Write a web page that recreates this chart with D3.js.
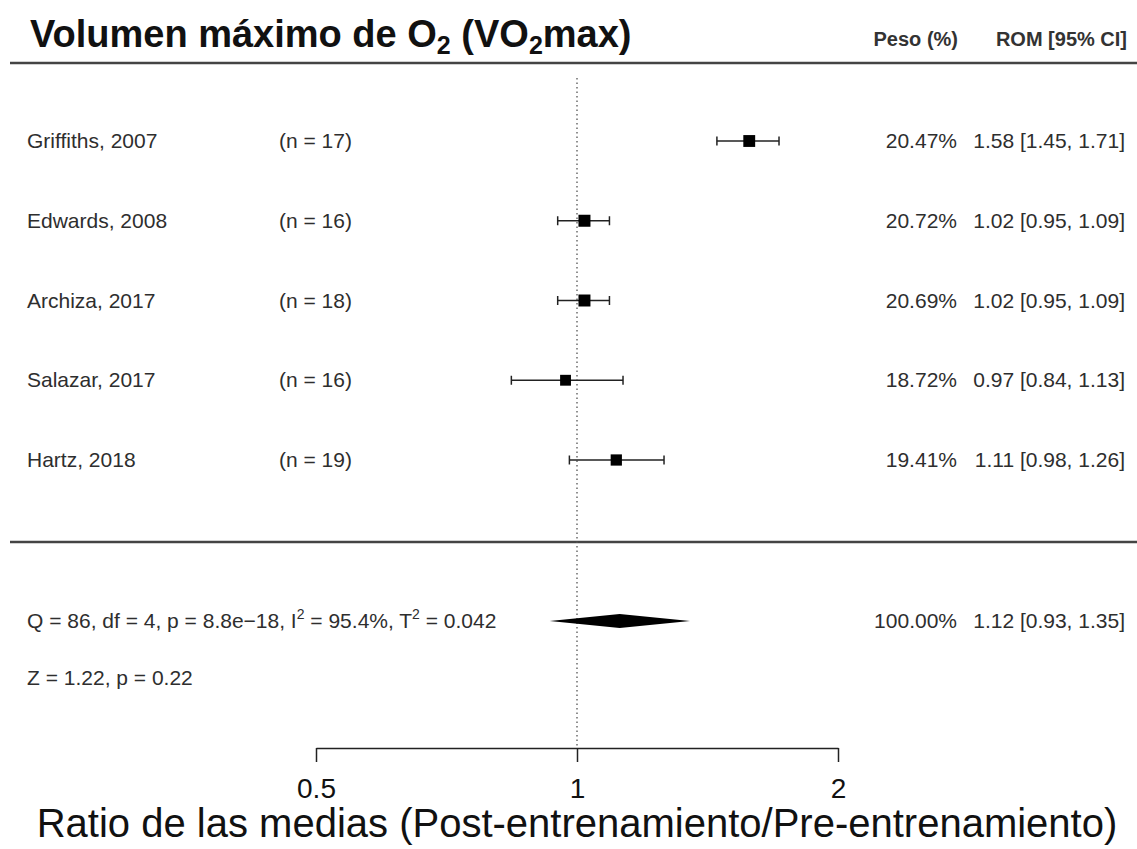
<!DOCTYPE html>
<html lang="es">
<head>
<meta charset="UTF-8">
<title>Forest plot VO2max</title>
<script src="https://cdnjs.cloudflare.com/ajax/libs/d3/7.8.5/d3.min.js"></script>
<style>
    body { margin: 0; background: #fff; }
    svg { display: block; font-family: 'Liberation Sans', Arial, sans-serif; }
    .txt { fill: #2e2e2e; font-size: 21px; }
    .hdr { fill: #333; font-size: 20px; font-weight: bold; }
</style>
</head>
<body>
<div id="chart"></div>
<script>
    // Study data
    const studies = ["Griffiths, 2007", "Edwards, 2008", "Archiza, 2017", "Salazar, 2017", "Hartz, 2018"];
    const sampleSizes = [17, 16, 18, 16, 19];
    const weights = [20.47, 20.72, 20.69, 18.72, 19.41];
    const estimates = [1.58, 1.02, 1.02, 0.97, 1.11];
    const lower = [1.45, 0.95, 0.95, 0.84, 0.98];
    const upper = [1.71, 1.09, 1.09, 1.13, 1.26];

    // Random-effects summary
    const summary = { est: 1.12, lo: 0.93, hi: 1.35, weight: 100.00 };
    const hetText = ["Q = 86, df = 4, p = 8.8e\u221218, I", "2", " = 95.4%, T", "2", " = 0.042"];
    const zText = "Z = 1.22, p = 0.22";

    const tickValues = [0.5, 1, 2];
    const tickLabels = ["0.5", "1", "2"];

    const width = 1137, height = 849;

    const svg = d3.select("#chart").append("svg")
        .attr("width", width)
        .attr("height", height);

    const x = d3.scaleLog().base(2).domain([0.5, 2]).range([316, 838]);
    const y = d3.scalePoint().domain(studies).range([141, 460]);
    const ySummary = 621;
    const yZ = 678;
    const axisY = 748;
    const colW = 957, colCI = 1125;

    // Title
    const title = svg.append("text")
        .attr("x", 30).attr("y", 47)
        .attr("font-size", 38).attr("font-weight", "bold")
        .attr("fill", "#111");
    title.append("tspan").text("Volumen máximo de O");
    title.append("tspan").attr("font-size", 25).attr("dy", 7).text("2");
    title.append("tspan").attr("dy", -7).text(" (VO");
    title.append("tspan").attr("font-size", 25).attr("dy", 7).text("2");
    title.append("tspan").attr("dy", -7).text("max)");

    // Column headers
    svg.append("text").attr("class", "hdr")
        .attr("x", 958).attr("y", 46).attr("text-anchor", "end").text("Peso (%)");
    svg.append("text").attr("class", "hdr")
        .attr("x", 1127).attr("y", 46).attr("text-anchor", "end").text("ROM [95% CI]");

    // Horizontal rules
    [63, 542].forEach(yy => {
        svg.append("line")
            .attr("x1", 10).attr("x2", width)
            .attr("y1", yy).attr("y2", yy)
            .attr("stroke", "#444").attr("stroke-width", 2.5);
    });

    // Reference line at 1
    svg.append("line")
        .attr("x1", x(1)).attr("x2", x(1))
        .attr("y1", 78).attr("y2", axisY)
        .attr("stroke", "#555").attr("stroke-width", 1.3)
        .attr("stroke-dasharray", "1.5,3");

    const fmt = d3.format(".2f");
    const maxW = d3.max(weights);

    studies.forEach((s, i) => {
        const yy = y(s);
        svg.append("text").attr("class", "txt")
            .attr("x", 27).attr("y", yy + 7).text(s);
        svg.append("text").attr("class", "txt")
            .attr("x", 279).attr("y", yy + 7).text(`(n = ${sampleSizes[i]})`);
        svg.append("text").attr("class", "txt")
            .attr("x", colW).attr("y", yy + 7).attr("text-anchor", "end")
            .text(fmt(weights[i]) + "%");
        svg.append("text").attr("class", "txt")
            .attr("x", colCI).attr("y", yy + 7).attr("text-anchor", "end")
            .text(`${fmt(estimates[i])} [${fmt(lower[i])}, ${fmt(upper[i])}]`);

        // CI line and caps
        svg.append("line")
            .attr("x1", x(lower[i])).attr("x2", x(upper[i]))
            .attr("y1", yy).attr("y2", yy)
            .attr("stroke", "#222").attr("stroke-width", 1.5);
        [lower[i], upper[i]].forEach(v => {
            svg.append("line")
                .attr("x1", x(v)).attr("x2", x(v))
                .attr("y1", yy - 4.5).attr("y2", yy + 4.5)
                .attr("stroke", "#222").attr("stroke-width", 1.5);
        });

        // Weighted square
        const sz = 12 * weights[i] / maxW;
        svg.append("rect")
            .attr("x", x(estimates[i]) - sz / 2)
            .attr("y", yy - sz / 2)
            .attr("width", sz).attr("height", sz)
            .attr("fill", "#000");
    });

    // Summary diamond
    svg.append("polygon")
        .attr("points", [
            [x(summary.lo), ySummary],
            [x(summary.est), ySummary - 7],
            [x(summary.hi), ySummary],
            [x(summary.est), ySummary + 7]
        ].map(p => p.join(",")).join(" "))
        .attr("fill", "#000");

    const het = svg.append("text").attr("class", "txt")
        .attr("x", 27).attr("y", ySummary + 7);
    het.append("tspan").text(hetText[0]);
    het.append("tspan").attr("dy", -9).attr("font-size", 14).text(hetText[1]);
    het.append("tspan").attr("dy", 9).text(hetText[2]);
    het.append("tspan").attr("dy", -9).attr("font-size", 14).text(hetText[3]);
    het.append("tspan").attr("dy", 9).text(hetText[4]);

    svg.append("text").attr("class", "txt")
        .attr("x", 27).attr("y", yZ + 7).text(zText);

    svg.append("text").attr("class", "txt")
        .attr("x", colW).attr("y", ySummary + 7).attr("text-anchor", "end")
        .text(fmt(summary.weight) + "%");
    svg.append("text").attr("class", "txt")
        .attr("x", colCI).attr("y", ySummary + 7).attr("text-anchor", "end")
        .text(`${fmt(summary.est)} [${fmt(summary.lo)}, ${fmt(summary.hi)}]`);

    // X axis (ticks pointing down, R style)
    const axis = svg.append("g")
        .attr("transform", `translate(0,${axisY})`)
        .call(d3.axisBottom(x)
            .tickValues(tickValues)
            .tickFormat((d, i) => tickLabels[i])
            .tickSizeInner(14)
            .tickSizeOuter(0)
            .tickPadding(16));
    axis.select(".domain").attr("stroke", "#222").attr("stroke-width", 1.5);
    axis.selectAll(".tick line").attr("stroke", "#222").attr("stroke-width", 1.5);
    axis.selectAll(".tick text")
        .attr("font-size", 28)
        .attr("font-family", "'Liberation Sans', Arial, sans-serif")
        .attr("fill", "#111");

    svg.append("text")
        .attr("x", x(1)).attr("y", 837)
        .attr("text-anchor", "middle")
        .attr("font-size", 40)
        .attr("fill", "#111")
        .text("Ratio de las medias (Post-entrenamiento/Pre-entrenamiento)");
</script>
</body>
</html>
